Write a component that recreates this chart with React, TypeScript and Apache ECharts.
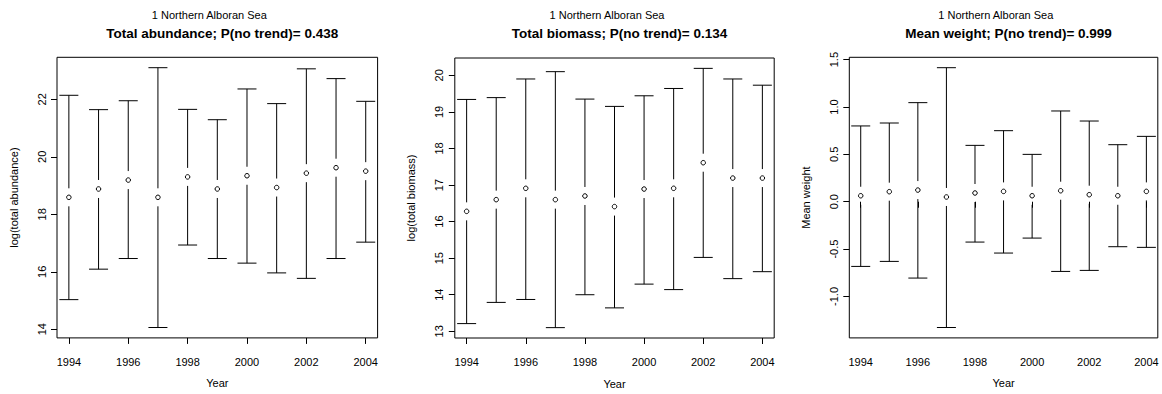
import React, { useEffect, useRef } from "react";
import * as echarts from "echarts";

// Survey years and confidence intervals for the Northern Alboran Sea indices
const years = [1994, 1995, 1996, 1997, 1998, 1999, 2000, 2001, 2002, 2003, 2004];
const yearTicks = [1994, 1996, 1998, 2000, 2002, 2004];

const abundanceMean = [18.59, 18.88, 19.19, 18.59, 19.3, 18.88, 19.34, 18.93, 19.43, 19.62, 19.5];
const abundanceLow = [15.03, 16.09, 16.46, 14.06, 16.93, 16.46, 16.3, 15.96, 15.77, 16.46, 17.03];
const abundanceHigh = [22.14, 21.64, 21.95, 23.1, 21.65, 21.29, 22.36, 21.85, 23.06, 22.72, 21.93];
const abundanceTicks = [14, 16, 18, 20, 22];

const biomassMean = [16.28, 16.6, 16.91, 16.6, 16.7, 16.41, 16.89, 16.91, 17.61, 17.19, 17.19];
const biomassLow = [13.21, 13.79, 13.87, 13.1, 14.0, 13.64, 14.29, 14.14, 15.02, 14.44, 14.63];
const biomassHigh = [19.34, 19.39, 19.9, 20.1, 19.35, 19.15, 19.44, 19.64, 20.19, 19.9, 19.73];
const biomassTicks = [13, 14, 15, 16, 17, 18, 19, 20];

const weightMean = [0.063, 0.106, 0.123, 0.05, 0.092, 0.109, 0.063, 0.116, 0.074, 0.063, 0.109];
const weightLow = [-0.683, -0.63, -0.806, -1.328, -0.426, -0.542, -0.384, -0.736, -0.725, -0.475, -0.482];
const weightHigh = [0.8, 0.831, 1.046, 1.415, 0.595, 0.75, 0.5, 0.958, 0.852, 0.602, 0.69];
const weightTicks = [-1.0, -0.5, 0.0, 0.5, 1.0, 1.5];

const regionLabel = "1 Northern Alboran Sea";

type Panel = {
  title: string;
  yName: string;
  mean: number[];
  low: number[];
  high: number[];
  yTicks: number[];
  decimals: number;
  left: number;
  top: number;
  width: number;
  height: number;
  subCenter: number;
};

const panels: Panel[] = [
  {
    title: "Total abundance; P(no trend)= 0.438",
    yName: "log(total abundance)",
    mean: abundanceMean,
    low: abundanceLow,
    high: abundanceHigh,
    yTicks: abundanceTicks,
    decimals: 0,
    left: 57,
    top: 57.3,
    width: 320.6,
    height: 280.6,
    subCenter: 204.3,
  },
  {
    title: "Total biomass; P(no trend)= 0.134",
    yName: "log(total biomass)",
    mean: biomassMean,
    low: biomassLow,
    high: biomassHigh,
    yTicks: biomassTicks,
    decimals: 0,
    left: 454.8,
    top: 58,
    width: 319.4,
    height: 280,
    subCenter: 602,
  },
  {
    title: "Mean weight; P(no trend)= 0.999",
    yName: "Mean weight",
    mean: weightMean,
    low: weightLow,
    high: weightHigh,
    yTicks: weightTicks,
    decimals: 1,
    left: 849.3,
    top: 57.3,
    width: 308.5,
    height: 280.6,
    subCenter: 990.8,
  },
];

const FONT = "'Liberation Sans', Arial, Helvetica, sans-serif";
const CAP_HALF = 9.5;
const POINT_GAP = 9;

// R-style range: data extent padded by 4% on both sides
function paddedRange(lo: number[], hi: number[]): [number, number] {
  const a = Math.min(...lo);
  const b = Math.max(...hi);
  const pad = (b - a) * 0.04;
  return [a - pad, b + pad];
}

function buildOption() {
  const grid: any[] = [];
  const xAxis: any[] = [];
  const yAxis: any[] = [];
  const series: any[] = [];
  const title: any[] = [];
  const [xMin, xMax] = paddedRange(years, years);

  panels.forEach((p, i) => {
    const [yMin, yMax] = paddedRange(p.low, p.high);
    grid.push({
      left: p.left,
      top: p.top,
      width: p.width,
      height: p.height,
      show: true,
      borderColor: "#000",
      borderWidth: 1,
      backgroundColor: "transparent",
      containLabel: false,
      outerBoundsMode: "none",
    });
    xAxis.push({
      type: "value",
      gridIndex: i,
      min: xMin,
      max: xMax,
      name: "Year",
      nameLocation: "middle",
      nameGap: 40,
      nameTextStyle: { fontFamily: FONT, fontSize: 11, color: "#000" },
      axisLine: { show: false },
      splitLine: { show: false },
      axisTick: {
        show: true,
        length: 6,
        customValues: yearTicks,
        lineStyle: { color: "#000", width: 1 },
      },
      axisLabel: {
        show: true,
        customValues: yearTicks,
        margin: 18.5,
        fontFamily: FONT,
        fontSize: 11,
        color: "#000",
        formatter: (v: number) => String(Math.round(v)),
      },
    });
    yAxis.push({
      type: "value",
      gridIndex: i,
      min: yMin,
      max: yMax,
      name: p.yName,
      nameLocation: "middle",
      nameGap: 38,
      nameTextStyle: { fontFamily: FONT, fontSize: 11, color: "#000" },
      axisLine: { show: false },
      splitLine: { show: false },
      axisTick: {
        show: true,
        length: 6,
        customValues: p.yTicks,
        lineStyle: { color: "#000", width: 1 },
      },
      axisLabel: {
        show: true,
        customValues: p.yTicks,
        rotate: 90,
        margin: 10,
        fontFamily: FONT,
        fontSize: 11,
        color: "#000",
        formatter: (v: number) => v.toFixed(p.decimals),
      },
    });

    const ciData = years.map((y, k) => [y, p.low[k], p.high[k], p.mean[k]]);
    series.push({
      type: "custom",
      xAxisIndex: i,
      yAxisIndex: i,
      data: ciData,
      encode: { x: 0, y: [1, 2] },
      silent: true,
      renderItem: (_params: any, api: any) => {
        const x = api.value(0);
        const lo = api.coord([x, api.value(1)]);
        const hi = api.coord([x, api.value(2)]);
        const mid = api.coord([x, api.value(3)]);
        const style = { stroke: "#000", lineWidth: 1 };
        const children: any[] = [
          { type: "line", shape: { x1: hi[0] - CAP_HALF, y1: hi[1], x2: hi[0] + CAP_HALF, y2: hi[1] }, style },
          { type: "line", shape: { x1: lo[0] - CAP_HALF, y1: lo[1], x2: lo[0] + CAP_HALF, y2: lo[1] }, style },
        ];
        if (mid[1] - POINT_GAP > hi[1]) {
          children.push({ type: "line", shape: { x1: hi[0], y1: hi[1], x2: hi[0], y2: mid[1] - POINT_GAP }, style });
        }
        if (mid[1] + POINT_GAP < lo[1]) {
          children.push({ type: "line", shape: { x1: lo[0], y1: mid[1] + POINT_GAP, x2: lo[0], y2: lo[1] }, style });
        }
        return { type: "group", children };
      },
      z: 2,
    });
    series.push({
      type: "scatter",
      xAxisIndex: i,
      yAxisIndex: i,
      data: years.map((y, k) => [y, p.mean[k]]),
      symbol: "circle",
      symbolSize: 4.5,
      itemStyle: { color: "#fff", borderColor: "#000", borderWidth: 1, opacity: 1 },
      silent: true,
      z: 3,
    });

    const center = p.left + p.width / 2;
    title.push({
      text: regionLabel,
      left: p.subCenter,
      top: 4.5,
      textAlign: "center",
      textStyle: { fontFamily: FONT, fontSize: 11, fontWeight: "normal", color: "#000" },
    });
    title.push({
      text: p.title,
      left: center,
      top: 21.5,
      textAlign: "center",
      textStyle: { fontFamily: FONT, fontSize: 13.5, fontWeight: "bold", color: "#000" },
    });
  });

  return {
    animation: false,
    backgroundColor: "#fff",
    title,
    grid,
    xAxis,
    yAxis,
    series,
  };
}

export default function App() {
  const ref = useRef<HTMLDivElement>(null);
  useEffect(() => {
    if (!ref.current) return;
    const chart = echarts.init(ref.current, undefined, { renderer: "svg" });
    chart.setOption(buildOption() as any);
    return () => chart.dispose();
  }, []);
  return (
    <div
      ref={ref}
      style={{ position: "fixed", left: 0, top: 0, width: 1162, height: 394, background: "#fff" }}
    />
  );
}
